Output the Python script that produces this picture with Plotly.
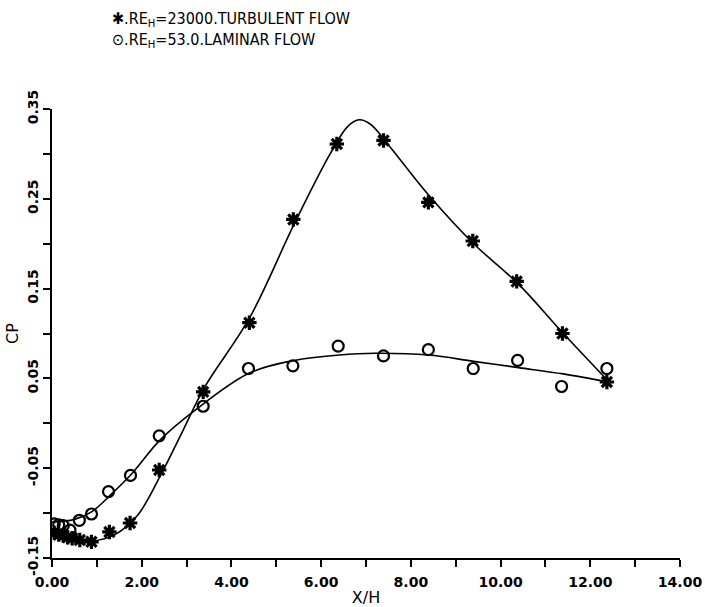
import plotly.graph_objects as go

# ---- data ----
turb_x = [0.05, 0.15, 0.25, 0.35, 0.45, 0.62, 0.88, 1.28, 1.74, 2.39, 3.37, 4.40, 5.38, 6.35, 7.39, 8.39, 9.38, 10.36, 11.38, 12.37]
turb_cp = [-0.122, -0.124, -0.125, -0.127, -0.128, -0.130, -0.132, -0.121, -0.111, -0.052, 0.035, 0.112, 0.227, 0.311, 0.315, 0.246, 0.203, 0.158, 0.100, 0.046]

lam_x = [0.05, 0.15, 0.25, 0.40, 0.61, 0.88, 1.26, 1.75, 2.39, 3.37, 4.38, 5.37, 6.38, 7.39, 8.39, 9.39, 10.38, 11.36, 12.37]
lam_cp = [-0.112, -0.113, -0.114, -0.119, -0.108, -0.101, -0.076, -0.058, -0.014, 0.019, 0.061, 0.064, 0.086, 0.075, 0.082, 0.061, 0.070, 0.041, 0.061]

# fitted curves (knots)
turb_fit_x = [0.0, 0.5, 0.9, 1.4, 1.9, 2.4, 2.9, 3.4, 4.4, 5.4, 6.2, 6.6, 6.85, 7.1, 7.5, 8.4, 9.4, 10.4, 11.4, 12.4]
turb_fit_y = [-0.123, -0.129, -0.131, -0.124, -0.103, -0.060, -0.010, 0.040, 0.117, 0.222, 0.300, 0.331, 0.338, 0.333, 0.310, 0.254, 0.200, 0.155, 0.100, 0.047]

lam_fit_x = [0.0, 0.5, 0.9, 1.3, 1.8, 2.4, 3.2, 4.4, 5.4, 6.4, 7.2, 8.4, 9.4, 10.4, 11.4, 12.4]
lam_fit_y = [-0.110, -0.107, -0.098, -0.080, -0.055, -0.019, 0.015, 0.056, 0.070, 0.076, 0.078, 0.076, 0.069, 0.062, 0.055, 0.046]

x_major = [0, 2, 4, 6, 8, 10, 12, 14]
x_labels = ["%.2f" % v for v in x_major]
y_major = [-0.15, -0.05, 0.05, 0.15, 0.25, 0.35]
y_labels = ["%.2f" % v for v in y_major]

FONT = "DejaVu Sans"

fig = go.Figure()
fig.add_trace(go.Scatter(x=turb_fit_x, y=turb_fit_y, mode="lines",
                         line=dict(color="black", width=1.6, shape="spline", smoothing=1.0),
                         showlegend=False, hoverinfo="skip"))
fig.add_trace(go.Scatter(x=lam_fit_x, y=lam_fit_y, mode="lines",
                         line=dict(color="black", width=1.6, shape="spline", smoothing=1.0),
                         showlegend=False, hoverinfo="skip"))
fig.add_trace(go.Scatter(x=turb_x, y=turb_cp, mode="markers",
                         marker=dict(symbol="asterisk-open", size=12, color="black",
                                     line=dict(color="black", width=3.2)),
                         showlegend=False))
fig.add_trace(go.Scatter(x=lam_x, y=lam_cp, mode="markers",
                         marker=dict(symbol="circle-open", size=11, color="black",
                                     line=dict(color="black", width=2.2)),
                         showlegend=False))

axis_common = dict(showline=True, linecolor="black", linewidth=1.6, mirror=False,
                   showgrid=False, zeroline=False, ticks="outside", ticklen=7,
                   tickwidth=1.6, tickcolor="black", automargin=False)

fig.update_layout(
    template="none",
    width=705, height=607,
    margin=dict(l=52, r=25, t=109, b=49, pad=0),
    paper_bgcolor="white", plot_bgcolor="white",
    font=dict(family=FONT, color="black"),
    xaxis=dict(range=[0, 14], tickvals=x_major, ticktext=x_labels,
               minor=dict(dtick=1, tick0=0, ticks="outside", ticklen=7, tickwidth=1.6,
                          tickcolor="black", showgrid=False),
               ticklabelstandoff=3,
               tickfont=dict(family=FONT, size=14, color="black", weight="bold"),
               title=dict(text="X/H", font=dict(family=FONT, size=16), standoff=10),
               **axis_common),
    yaxis=dict(range=[-0.15, 0.35], tickvals=y_major, ticktext=y_labels,
               minor=dict(dtick=0.05, tick0=-0.15, ticks="outside", ticklen=7, tickwidth=1.6,
                          tickcolor="black", showgrid=False),
               tickangle=-90,
               tickfont=dict(family=FONT, size=14, color="black", weight="bold"),
               title=dict(text="CP", font=dict(family=FONT, size=16), standoff=2),
               **axis_common),
)

fig.add_annotation(xref="paper", yref="paper", x=0.092, y=1.0, yshift=102,
                   xanchor="left", yanchor="top", showarrow=False, align="left",
                   text="✱.RE<sub>H</sub>=23000.TURBULENT FLOW<br>⊙.RE<sub>H</sub>=53.0.LAMINAR FLOW",
                   font=dict(family="DejaVu Sans Condensed, " + FONT, size=16, color="black"))

fig.write_html("out.html")
